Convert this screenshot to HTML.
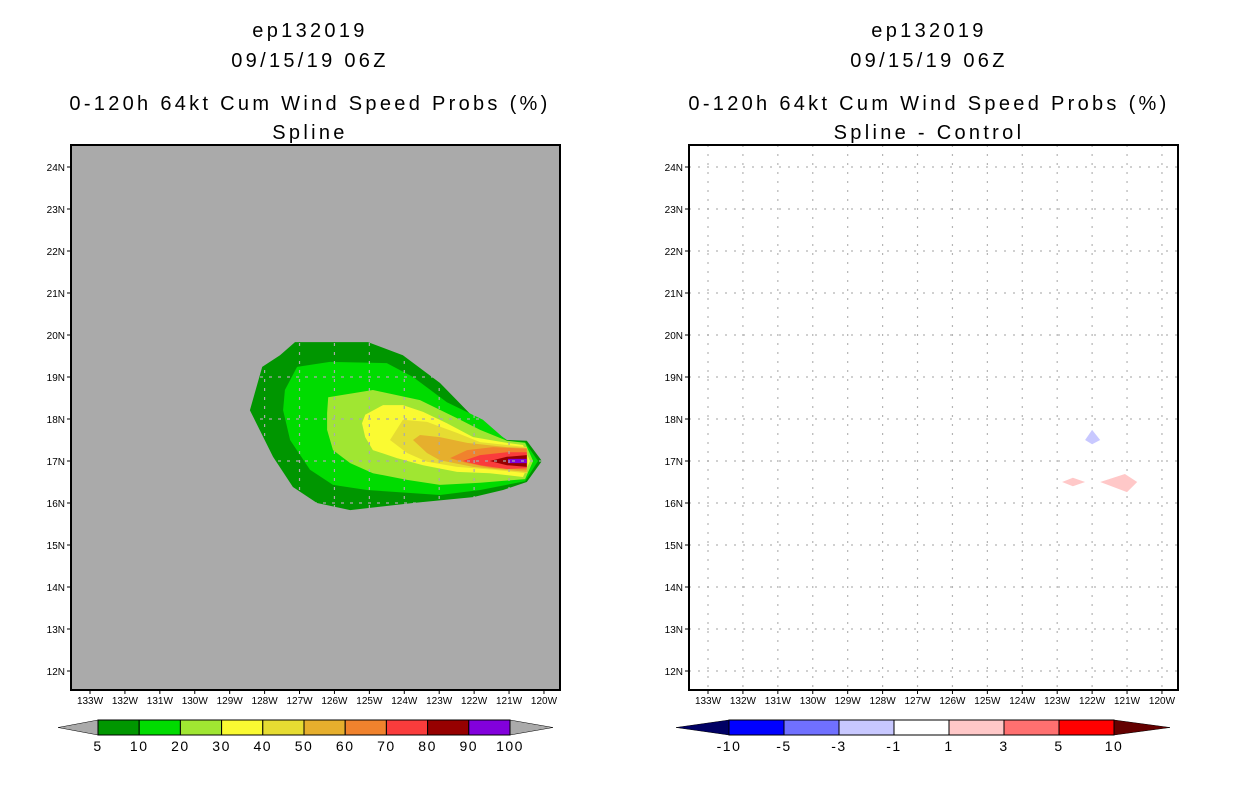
<!DOCTYPE html>
<html><head><meta charset="utf-8"><style>
body{margin:0;background:#fff;}
svg{display:block;font-family:"Liberation Sans",sans-serif;}
</style></head><body>
<svg id="chart" width="1236" height="800" viewBox="0 0 1236 800" xmlns="http://www.w3.org/2000/svg">
<g font-size="20" text-anchor="middle" fill="#000" letter-spacing="3.3">
<text x="310" y="37">ep132019</text>
<text x="310" y="67">09/15/19 06Z</text>
<text x="310" y="110">0-120h 64kt Cum Wind Speed Probs (%)</text>
<text x="310" y="139">Spline</text>
</g>
<g font-size="20" text-anchor="middle" fill="#000" letter-spacing="3.3">
<text x="929" y="37">ep132019</text>
<text x="929" y="67">09/15/19 06Z</text>
<text x="929" y="110">0-120h 64kt Cum Wind Speed Probs (%)</text>
<text x="929" y="139">Spline - Control</text>
</g>
</svg>
<script>
const lonTicks=[133,132,131,130,129,128,127,126,125,124,123,122,121,120];
const latTicks=[24,23,22,21,20,19,18,17,16,15,14,13,12];
const probLevels=[5,10,20,30,40,50,60,70,80,90,100];
const probColors=["#009600","#00dc00","#a0e632","#fafa32","#e6dc32","#e6af2d","#f0822d","#fa3c3c","#960000","#8200dc"];
const diffLevels=["-10","-5","-3","-1","1","3","5","10"];
const diffColors=["#0000ff","#7070ff","#c8c8ff","#ffffff","#ffc8c8","#ff7070","#ff0000"];
// contour polygons [lon W, lat N]
const c5=[[127.13,19.83],[125.04,19.83],[124.04,19.52],[122.98,18.86],[122.03,18.05],[121.06,17.5],[120.49,17.48],[120.06,17.0],[120.49,16.5],[121.17,16.31],[122.03,16.14],[123.75,16.0],[125.55,15.83],[126.5,16.0],[127.19,16.38],[127.76,17.1],[128.42,18.21],[128.07,19.24],[127.56,19.52]];
const c10=[[127.07,19.24],[126.13,19.36],[124.5,19.33],[123.75,19.0],[122.78,18.4],[121.75,17.98],[121.06,17.48],[120.54,17.45],[120.17,17.0],[120.54,16.52],[121.83,16.31],[122.98,16.19],[125.07,16.31],[126.04,16.43],[126.7,16.79],[127.27,17.5],[127.47,18.21],[127.42,18.69]];
const c20=[[126.18,18.52],[124.9,18.69],[123.55,18.45],[122.4,17.98],[121.83,17.74],[121.06,17.48],[120.54,17.43],[120.31,17.0],[120.54,16.57],[121.83,16.48],[122.98,16.43],[123.92,16.55],[124.9,16.71],[125.55,16.95],[126.04,17.26],[126.21,17.74],[126.21,18.14]];
const c30=[[125.12,18.1],[124.61,18.33],[124.04,18.33],[123.46,18.17],[122.78,17.9],[122.03,17.57],[121.06,17.43],[120.6,17.38],[120.4,17.0],[120.6,16.62],[121.55,16.71],[122.49,16.74],[123.46,16.9],[124.21,17.07],[124.9,17.26],[125.12,17.57],[125.21,17.9]];
const c40=[[124.41,17.5],[124.04,17.98],[123.35,17.93],[122.49,17.67],[121.83,17.45],[120.49,17.33],[120.46,17.0],[120.49,16.71],[121.46,16.79],[122.49,16.86],[123.35,16.98],[123.92,17.19]];
const c50=[[123.75,17.5],[123.55,17.62],[122.98,17.57],[122.2,17.43],[121.06,17.33],[120.49,17.31],[120.49,17.0],[120.49,16.74],[122.03,16.86],[122.98,17.02],[123.35,17.19]];
const c60=[[122.69,17.07],[122.2,17.26],[121.46,17.33],[120.49,17.29],[120.49,16.79],[121.46,16.83],[122.2,16.95]];
const c70=[[122.32,17.0],[121.83,17.14],[121.06,17.21],[120.49,17.21],[120.49,16.83],[121.06,16.81],[121.83,16.9]];
const c80=[[121.55,17.0],[121.06,17.1],[120.49,17.14],[120.49,16.86],[121.06,16.9]];
const c90=[[121.03,17.05],[120.49,17.05],[120.49,16.95],[121.03,16.95]];
const contours=[c5,c10,c20,c30,c40,c50,c60,c70,c80,c90];
const diffBlue=[[122.0,17.74],[122.2,17.5],[122.0,17.4],[121.77,17.5]];
const diffPink1=[[122.86,16.5],[122.55,16.6],[122.2,16.5],[122.55,16.4]];
const diffPink2=[[121.77,16.5],[121.06,16.69],[120.71,16.5],[121.0,16.26]];

const NS="http://www.w3.org/2000/svg";
const svg=document.getElementById('chart');
function mk(tag,attrs,parent){const e=document.createElementNS(NS,tag);for(const k in attrs)e.setAttribute(k,attrs[k]);(parent||svg).appendChild(e);return e;}
const T=145,B=690;
function xS(x0){return lon=>x0+(133-lon)*34.92;}
function yS(lat){return 461-(lat-17)*42;}
function pts(poly,xs){return poly.map(p=>xs(p[0]).toFixed(1)+','+yS(p[1]).toFixed(1)).join(' ');}

function panel(L,R,x133,bg,name){
  const g=mk('g',{});
  
  
  const xs=xS(x133);
  const bgr=mk('rect',{x:L,y:T,width:R-L,height:B-T,fill:bg},g);
  
  
  return {g,xs};
}
function grid(p,L,R,color,dash){
  lonTicks.forEach(l=>{const x=p.xs(l);const ln=mk('line',{x1:x,x2:x,y1:T,y2:B,stroke:color,'stroke-width':1.2,'stroke-dasharray':dash},p.g);
    
    });
  latTicks.forEach(l=>{const y=yS(l);const ln=mk('line',{x1:L,x2:R,y1:y,y2:y,stroke:color,'stroke-width':1.2,'stroke-dasharray':dash},p.g);
    
    });
}
function axes(p,L,R){
  const f=mk('rect',{x:L,y:T,width:R-L,height:B-T,fill:'none',stroke:'#000','stroke-width':2},p.g);
  
  
  lonTicks.forEach(l=>{const x=p.xs(l);
    mk('line',{x1:x,x2:x,y1:B,y2:B+4,stroke:'#000'},p.g);
    const t=mk('text',{x:x,y:B+14,'font-size':10,'text-anchor':'middle'},p.g);t.textContent=l+'W';
    
    });
  latTicks.forEach(l=>{const y=yS(l);
    mk('line',{x1:L-4,x2:L,y1:y,y2:y,stroke:'#000'},p.g);
    const t=mk('text',{x:L-6,y:y+4,'font-size':10,'text-anchor':'end'},p.g);t.textContent=l+'N';
    
    });
}
// left panel
const P1=panel(71,560,90,'#aaaaaa','left-map');
contours.forEach((c,i)=>{const pg=mk('polygon',{points:pts(c,P1.xs),fill:probColors[i]},P1.g);
  
  });
grid(P1,71,560,'#aaaaaa','3,6');
axes(P1,71,560);
// right panel
const P2=panel(689,1178,708,'#ffffff','right-map');
grid(P2,689,1178,'#b4b4b4','2,7');
[[diffBlue,diffColors[2],'diff-blue-area'],[diffPink1,diffColors[4],'diff-pink-area-west'],[diffPink2,diffColors[4],'diff-pink-area-east']].forEach(d=>{
  const pg=mk('polygon',{points:pts(d[0],P2.xs),fill:d[1]},P2.g);
  
  });
axes(P2,689,1178);
// colorbars
function colorbar(x0,x1,tl,tr,cols,labels,lc,rc,name){
  const g=mk('g',{});
  
  
  const y0=720,y1=735,ym=727.5,w=(x1-x0)/cols.length;
  mk('polygon',{points:`${tl},${ym} ${x0},${y0} ${x0},${y1}`,fill:lc,stroke:'#000','stroke-width':0.5},g);
  mk('polygon',{points:`${tr},${ym} ${x1},${y0} ${x1},${y1}`,fill:rc,stroke:'#000','stroke-width':0.5},g);
  cols.forEach((c,i)=>{const r=mk('rect',{x:x0+i*w,y:y0,width:w,height:y1-y0,fill:c,stroke:'#000','stroke-width':1},g);
    
    });
  labels.forEach((l,i)=>{const t=mk('text',{x:x0+i*w,y:751,'font-size':14,'text-anchor':'middle','letter-spacing':1.5},g);t.textContent=l;
    
    });
}
colorbar(98,510,58,553,probColors,probLevels,'#aaaaaa','#aaaaaa','left-colorbar');
colorbar(729,1114,676,1170,diffColors,diffLevels,'#000064','#640000','right-colorbar');
</script>
</body></html>
